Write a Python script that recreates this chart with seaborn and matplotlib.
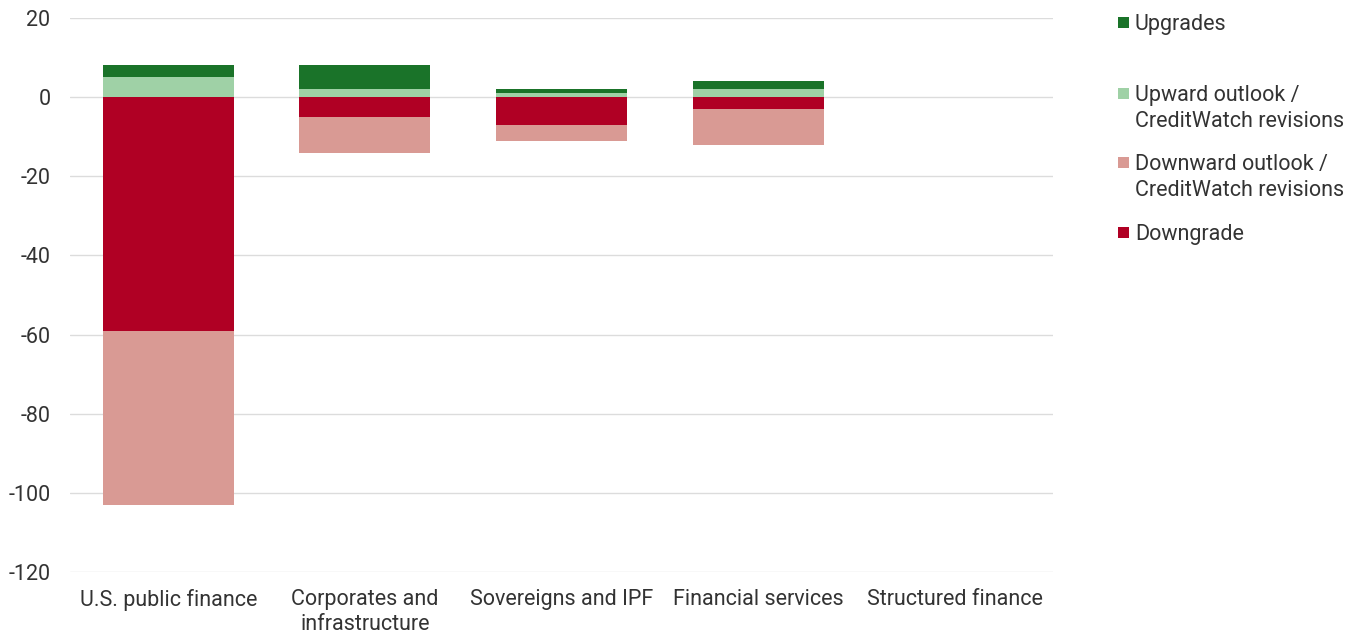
import matplotlib
matplotlib.use("Agg")
import matplotlib.pyplot as plt
import seaborn as sns
import pandas as pd
from matplotlib.patches import Rectangle

sectors = ["U.S. public finance", "Corporates and\ninfrastructure",
           "Sovereigns and IPF", "Financial services", "Structured finance"]
upgrades = [3, 6, 1, 2, 0]
upward_outlook = [5, 2, 1, 2, 0]
downward_outlook = [-44, -9, -4, -9, 0]
downgrades = [-59, -5, -7, -3, 0]
y_ticks = [20, 0, -20, -40, -60, -80, -100, -120]

series_labels = ["Upgrades", "Upward outlook /\nCreditWatch revisions",
                 "Downward outlook /\nCreditWatch revisions", "Downgrade"]
series_colors = ["#1a7329", "#9fd1a6", "#d99a94", "#b00024"]

sns.set_theme(style="white")
plt.rcParams["font.family"] = ["Roboto", "DejaVu Sans"]
text_color = "#333333"

df = pd.DataFrame({
    "sector": sectors,
    "upgrades": upgrades,
    "upward": upward_outlook,
    "downward": downward_outlook,
    "downgrades": downgrades,
})

fig = plt.figure(figsize=(13.6, 6.34), dpi=100)
ax = fig.add_axes([70 / 1360, 62 / 634, 983 / 1360, 554 / 634])

bar_kw = dict(width=0.667, linewidth=0, saturation=1, ax=ax, order=sectors)

# positive side: outlook revisions at the base, upgrades stacked on top
sns.barplot(data=df, x="sector", y="upward", color=series_colors[1], bottom=0, **bar_kw)
sns.barplot(data=df, x="sector", y="upgrades", color=series_colors[0],
            bottom=df["upward"].values, **bar_kw)
# negative side: downgrades at the base, outlook revisions below
sns.barplot(data=df, x="sector", y="downgrades", color=series_colors[3], bottom=0, **bar_kw)
sns.barplot(data=df, x="sector", y="downward", color=series_colors[2],
            bottom=df["downgrades"].values, **bar_kw)

ax.set_xlim(-0.5, 4.5)
ax.set_ylim(-120, 20)
ax.set_yticks(y_ticks)
ax.set_yticklabels([str(v) for v in y_ticks])
ax.yaxis.grid(True, color="#dcdcdc", linewidth=1)
ax.set_axisbelow(True)
ax.set_xlabel("")
ax.set_ylabel("")
for s in ax.spines.values():
    s.set_visible(False)
ax.tick_params(axis="both", length=0, labelsize=15.5, colors=text_color)
ax.tick_params(axis="y", pad=14)
ax.tick_params(axis="x", pad=12)
for lbl in ax.get_xticklabels():
    lbl.set_linespacing(1.3)

# legend on the right, swatches aligned with the first line of each label
W, H = 1360, 634
legend_rows = [22, 93, 162, 232]
for label, color, yc in zip(series_labels, series_colors, legend_rows):
    fig.add_artist(Rectangle((1118 / W, (H - yc - 6) / H), 11 / W, 11 / H,
                             facecolor=color, edgecolor="none",
                             transform=fig.transFigure))
    fig.text(1135 / W, (H - yc + 8) / H, label, ha="left", va="top",
             fontsize=15.5, color=text_color, linespacing=1.3)

fig.savefig("out.png", dpi=100)
